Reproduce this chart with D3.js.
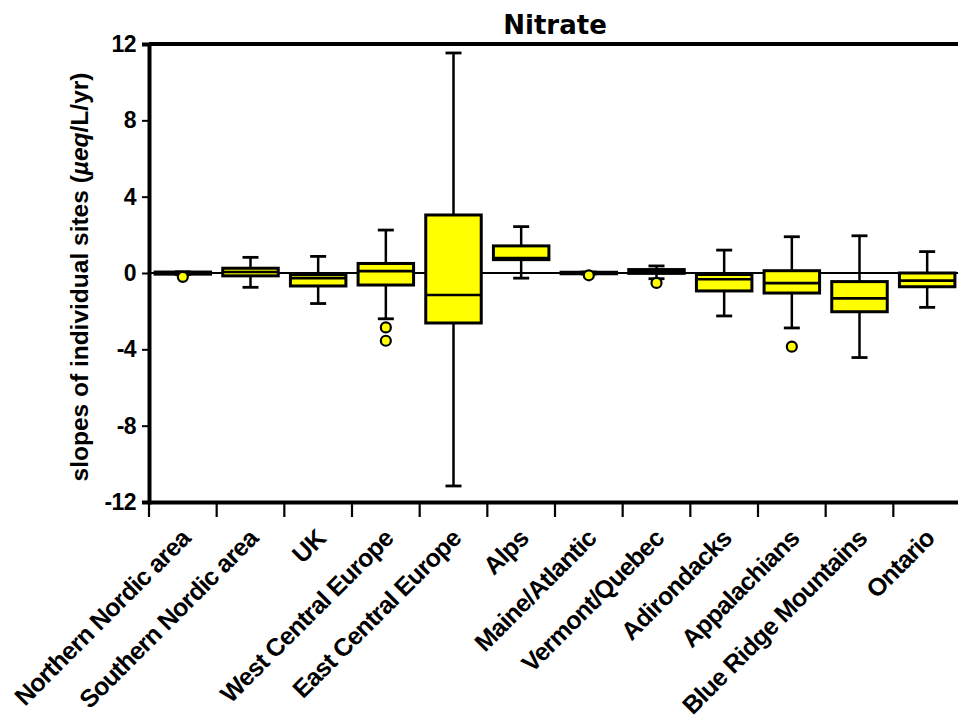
<!DOCTYPE html>
<html><head><meta charset="utf-8"><style>
body { margin: 0; background: #fff; }
text { font-family: "Liberation Sans", Arial, sans-serif; font-weight: bold; }
</style>
</head>
<body>
<svg width="958" height="718"></svg>
<script src="https://cdn.jsdelivr.net/npm/d3@7"></script>
<script>

var regions = ["Northern Nordic area", "Southern Nordic area", "UK", "West Central Europe",
    "East Central Europe", "Alps", "Maine/Atlantic", "Vermont/Quebec", "Adirondacks",
    "Appalachians", "Blue Ridge Mountains", "Ontario"];
var whiskerLow  = [-0.08, -0.75, -1.6, -2.4, -11.16, -0.27, -0.05, -0.3, -2.25, -2.88, -4.43, -1.8];
var q1          = [-0.06, -0.15, -0.68, -0.63, -2.62, 0.7, -0.04, -0.02, -0.94, -1.05, -2.03, -0.72];
var median      = [0, 0.05, -0.27, 0.1, -1.15, 0.78, 0, 0.08, -0.33, -0.53, -1.33, -0.4];
var q3          = [0.05, 0.25, -0.08, 0.5, 3.04, 1.42, 0.04, 0.18, -0.08, 0.12, -0.45, 0.0];
var whiskerHigh = [0.06, 0.82, 0.87, 2.25, 11.53, 2.43, 0.05, 0.37, 1.2, 1.9, 1.95, 1.12];
var outliers    = [[-0.2], [], [], [-2.85, -3.55], [], [], [-0.12], [-0.52], [], [-3.86], [], []];
var yTicks = [-12, -8, -4, 0, 4, 8, 12];

var svg = d3.select("svg"),
    margin = {top: 44, right: -3, bottom: 216, left: 149},
    width = +svg.attr("width") - margin.left - margin.right,
    height = +svg.attr("height") - margin.top - margin.bottom,
    g = svg.append("g").attr("transform", "translate(" + margin.left + "," + margin.top + ")");

var x = d3.scaleBand().domain(regions).range([0, width]).padding(0);
var y = d3.scaleLinear().domain([-12, 12]).range([height, 0]);

var boxW = x.bandwidth() * 0.82, capW = 16;

var data = regions.map(function(r, i) {
    return { name: r, lo: whiskerLow[i], q1: q1[i], med: median[i], q3: q3[i], hi: whiskerHigh[i], out: outliers[i] };
});

// zero line behind boxes
g.append("line")
    .attr("x1", 0).attr("x2", width)
    .attr("y1", y(0)).attr("y2", y(0))
    .attr("stroke", "#000").attr("stroke-width", 2);

var box = g.selectAll(".box")
    .data(data)
  .enter().append("g")
    .attr("class", "box")
    .attr("transform", function(d) { return "translate(" + (x(d.name) + x.bandwidth() / 2) + ",0)"; });

box.append("line")
    .attr("x1", 0).attr("x2", 0)
    .attr("y1", function(d) { return y(d.hi); })
    .attr("y2", function(d) { return y(d.lo); })
    .attr("stroke", "#000").attr("stroke-width", 2.5);

box.selectAll(".cap")
    .data(function(d) { return [d.hi, d.lo]; })
  .enter().append("line")
    .attr("x1", -capW / 2).attr("x2", capW / 2)
    .attr("y1", function(v) { return y(v); })
    .attr("y2", function(v) { return y(v); })
    .attr("stroke", "#000").attr("stroke-width", 2.8);

box.append("rect")
    .attr("x", -boxW / 2)
    .attr("width", boxW)
    .attr("y", function(d) { return y(d.q3); })
    .attr("height", function(d) { return y(d.q1) - y(d.q3); })
    .attr("fill", "#ffff00")
    .attr("stroke", "#000").attr("stroke-width", 3);

box.append("line")
    .attr("x1", -boxW / 2).attr("x2", boxW / 2)
    .attr("y1", function(d) { return y(d.med); })
    .attr("y2", function(d) { return y(d.med); })
    .attr("stroke", "#000").attr("stroke-width", 2.6);

box.selectAll(".out")
    .data(function(d) { return d.out; })
  .enter().append("circle")
    .attr("cx", 0)
    .attr("cy", function(v) { return y(v); })
    .attr("r", 5)
    .attr("fill", "#ffff00")
    .attr("stroke", "#000").attr("stroke-width", 2.2);

// top frame line
g.append("line").attr("x1", 0).attr("x2", width).attr("y1", 0).attr("y2", 0)
    .attr("stroke", "#000").attr("stroke-width", 4);

// y axis
var yAxis = g.append("g")
    .call(d3.axisLeft(y).tickValues(yTicks).tickSize(7).tickPadding(6)
        .tickFormat(function(d) { return String(d); }));
yAxis.select(".domain").attr("stroke-width", 4);
yAxis.selectAll(".tick line").attr("stroke-width", 2);
yAxis.selectAll(".tick text")
    .attr("font-size", 23).attr("letter-spacing", -0.6)
    .attr("font-family", "Liberation Sans").attr("font-weight", "bold");

// x axis, ticks on band edges
var xAxis = g.append("g")
    .attr("transform", "translate(0," + height + ")")
    .call(d3.axisBottom(x).tickSize(0).tickFormat(""));
xAxis.select(".domain").attr("stroke-width", 4);
xAxis.selectAll(".edge")
    .data(regions)
  .enter().append("line")
    .attr("x1", function(d) { return x(d); })
    .attr("x2", function(d) { return x(d); })
    .attr("y1", 0).attr("y2", 15)
    .attr("stroke", "#000").attr("stroke-width", 2.2);

g.selectAll(".xlabel")
    .data(regions)
  .enter().append("text")
    .attr("text-anchor", "end")
    .attr("font-size", 25)
    .attr("letter-spacing", -0.7)
    .attr("transform", function(d) {
        return "translate(" + (x(d) + x.bandwidth() / 2 + 9) + "," + (height + 38) + ") rotate(-45)";
    })
    .text(function(d) { return d; });

// title
svg.append("text")
    .attr("x", margin.left + width / 2)
    .attr("y", 34)
    .attr("text-anchor", "middle")
    .attr("font-size", 26)
    .style("font-family", "'DejaVu Sans', sans-serif")
    .text("Nitrate");

// y label
var yl = svg.append("text")
    .attr("transform", "translate(88,277) rotate(-90)")
    .attr("text-anchor", "middle")
    .attr("font-size", 24.5);
yl.append("tspan").text("slopes of individual sites (");
yl.append("tspan").attr("font-style", "italic").text("\u00b5eq");
yl.append("tspan").text("/L/yr)");

</script>
</body></html>
